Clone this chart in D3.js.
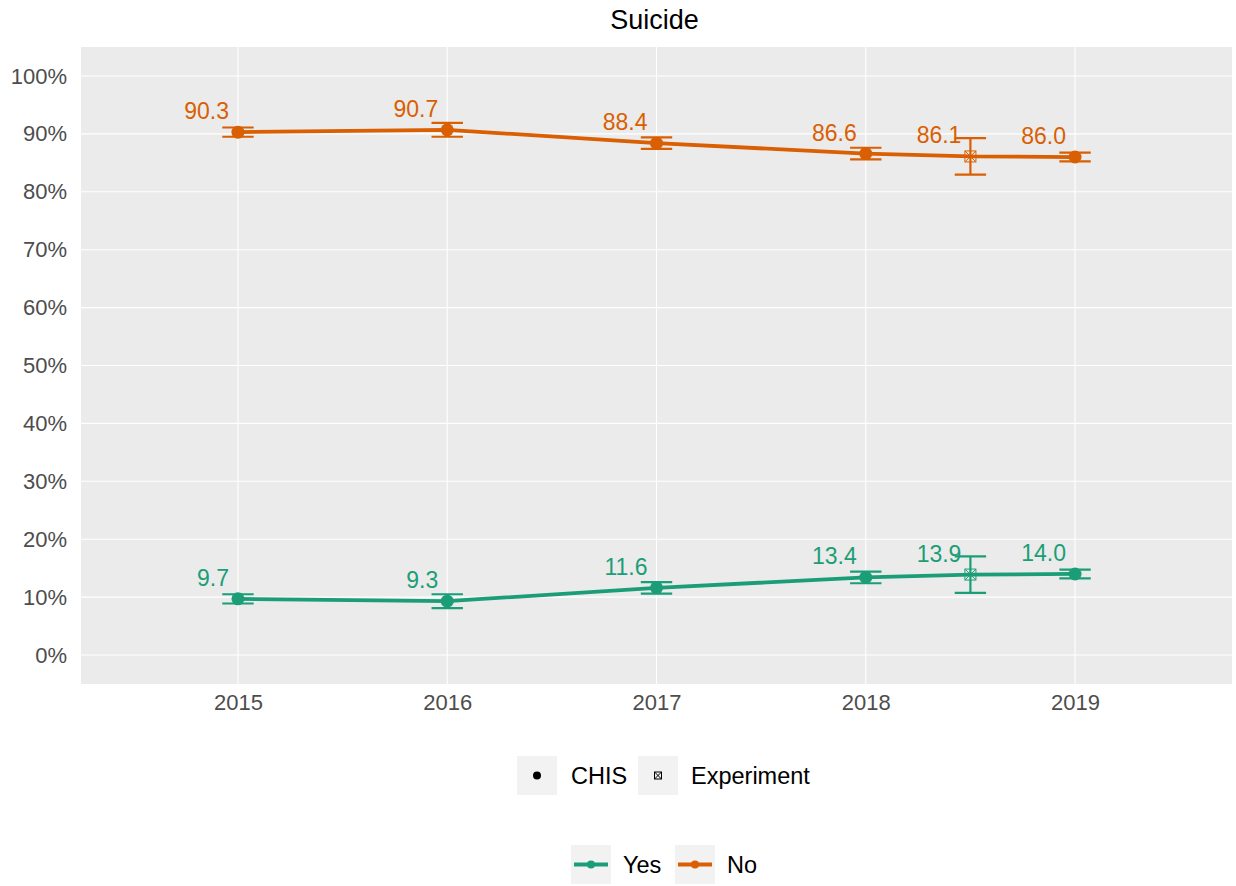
<!DOCTYPE html>
<html>
<head>
<meta charset="utf-8">
<script src="https://cdn.jsdelivr.net/npm/d3@7"></script>
<style>
  html, body { margin: 0; padding: 0; background: #ffffff; }
  svg { display: block; font-family: "Liberation Sans", Arial, Helvetica, sans-serif; }
</style>
</head>
<body>
<svg id="chart" width="1236" height="886"></svg>
<script>
// Survey estimates by year; 2018.5 is the experimental survey wave.
const years = [2015, 2016, 2017, 2018, 2018.5, 2019];
const sources = ["CHIS", "CHIS", "CHIS", "CHIS", "Experiment", "CHIS"];
const yesValues = [9.7, 9.3, 11.6, 13.4, 13.9, 14.0];
const noValues = [90.3, 90.7, 88.4, 86.6, 86.1, 86.0];
// Half-width of the confidence interval, in percentage points
const ciHalfWidth = [0.8, 1.2, 1.0, 1.0, 3.15, 0.75];

const yearTicks = [2015, 2016, 2017, 2018, 2019];
const percentTicks = [0, 10, 20, 30, 40, 50, 60, 70, 80, 90, 100];

const responseNames = ["Yes", "No"];
const sourceNames = ["CHIS", "Experiment"];
const responseColors = ["#1b9e77", "#d95f02"];

const svg = d3.select("#chart");
const panel = { left: 81, top: 47, right: 1232, bottom: 684 };

const x = d3.scaleLinear().domain([2014.25, 2019.75]).range([panel.left, panel.right]);
const y = d3.scaleLinear().domain([-5, 105]).range([panel.bottom, panel.top]);
const color = d3.scaleOrdinal().domain(responseNames).range(responseColors);

// Panel background and grid
svg.append("rect")
  .attr("x", panel.left).attr("y", panel.top)
  .attr("width", panel.right - panel.left).attr("height", panel.bottom - panel.top)
  .attr("fill", "#ebebeb");

svg.append("g").selectAll("line").data(percentTicks).join("line")
  .attr("x1", panel.left).attr("x2", panel.right)
  .attr("y1", d => y(d)).attr("y2", d => y(d))
  .attr("stroke", "#ffffff").attr("stroke-width", 1.1);

svg.append("g").selectAll("line").data(yearTicks).join("line")
  .attr("y1", panel.top).attr("y2", panel.bottom)
  .attr("x1", d => x(d)).attr("x2", d => x(d))
  .attr("stroke", "#ffffff").attr("stroke-width", 1.1);

// Axes (labels only, no domain line or ticks)
const yAxis = d3.axisLeft(y).tickValues(percentTicks).tickFormat(d => d + "%").tickSize(0).tickPadding(14);
const yG = svg.append("g").attr("transform", `translate(${panel.left},0)`).call(yAxis);
yG.select(".domain").remove();
yG.selectAll("text").attr("font-size", 22).attr("fill", "#4d4d4d")
  .attr("font-family", "Liberation Sans, Arial, sans-serif");

const xAxis = d3.axisBottom(x).tickValues(yearTicks).tickFormat(d3.format("d")).tickSize(0).tickPadding(10);
const xG = svg.append("g").attr("transform", `translate(0,${panel.bottom})`).call(xAxis);
xG.select(".domain").remove();
xG.selectAll("text").attr("font-size", 22).attr("fill", "#4d4d4d")
  .attr("font-family", "Liberation Sans, Arial, sans-serif");

// Title
svg.append("text")
  .attr("x", (panel.left + panel.right) / 2 - 2).attr("y", 29)
  .attr("text-anchor", "middle").attr("font-size", 27).attr("fill", "#000")
  .text("Suicide");

// Series data
const series = responseNames.map((name, k) => ({
  name,
  points: years.map((yr, i) => ({
    year: yr,
    source: sources[i],
    value: (k === 0 ? yesValues : noValues)[i],
    ci: ciHalfWidth[i]
  }))
}));

const line = d3.line().x(d => x(d.year)).y(d => y(d.value));
const capHalf = (x(2015.075) - x(2015));

function crossSquare(g, cx, cy, s, col, sw) {
  g.append("rect").attr("x", cx - s).attr("y", cy - s).attr("width", 2 * s).attr("height", 2 * s)
    .attr("fill", "none").attr("stroke", col).attr("stroke-width", sw);
  g.append("path").attr("d", `M${cx - s},${cy - s}L${cx + s},${cy + s}M${cx - s},${cy + s}L${cx + s},${cy - s}`)
    .attr("stroke", col).attr("stroke-width", sw);
}

series.forEach(s => {
  const col = color(s.name);
  const g = svg.append("g");

  g.append("path").datum(s.points).attr("d", line)
    .attr("fill", "none").attr("stroke", col).attr("stroke-width", 3.8)
    .attr("stroke-linejoin", "round");

  // Error bars
  s.points.forEach(p => {
    const cx = x(p.year), yl = y(p.value - p.ci), yh = y(p.value + p.ci);
    g.append("path")
      .attr("d", `M${cx - capHalf},${yh}H${cx + capHalf}M${cx},${yh}V${yl}M${cx - capHalf},${yl}H${cx + capHalf}`)
      .attr("fill", "none").attr("stroke", col).attr("stroke-width", 2.2);
  });

  // Points
  s.points.forEach(p => {
    const cx = x(p.year), cy = y(p.value);
    if (p.source === "CHIS") {
      g.append("circle").attr("cx", cx).attr("cy", cy).attr("r", 6.5).attr("fill", col);
    } else {
      crossSquare(g, cx, cy, 5.5, col, 1);
    }
  });

  // Value labels
  g.selectAll("text.val").data(s.points).join("text")
    .attr("class", "val")
    .attr("x", d => x(d.year) - 9)
    .attr("y", d => y(d.value) - 13)
    .attr("text-anchor", "end")
    .attr("font-size", 23).attr("fill", col)
    .text(d => d.value.toFixed(1));
});

// Legend: data source (shape)
const leg1 = svg.append("g");
const leg1Keys = [{ name: sourceNames[0], x: 517, tx: 571 }, { name: sourceNames[1], x: 638, tx: 691 }];
leg1Keys.forEach(k => {
  leg1.append("rect").attr("x", k.x).attr("y", 756).attr("width", 40).attr("height", 39).attr("fill", "#f2f2f2");
  if (k.name === "CHIS") {
    leg1.append("circle").attr("cx", k.x + 20).attr("cy", 775.5).attr("r", 4).attr("fill", "#000");
  } else {
    crossSquare(leg1, k.x + 20, 775.5, 3.5, "#000", 1);
  }
  leg1.append("text").attr("x", k.tx).attr("y", 784).attr("font-size", 23.5).attr("fill", "#000").text(k.name);
});

// Legend: response (colour)
const leg2 = svg.append("g");
const leg2Keys = [{ name: responseNames[0], x: 571, tx: 623 }, { name: responseNames[1], x: 675, tx: 727 }];
leg2Keys.forEach(k => {
  const col = color(k.name);
  leg2.append("rect").attr("x", k.x).attr("y", 845).attr("width", 40).attr("height", 39).attr("fill", "#f2f2f2");
  leg2.append("line").attr("x1", k.x + 3).attr("x2", k.x + 37).attr("y1", 864.5).attr("y2", 864.5)
    .attr("stroke", col).attr("stroke-width", 3.8);
  leg2.append("circle").attr("cx", k.x + 20).attr("cy", 864.5).attr("r", 4).attr("fill", col);
  leg2.append("text").attr("x", k.tx).attr("y", 873).attr("font-size", 23.5).attr("fill", "#000").text(k.name);
});
</script>
</body>
</html>
